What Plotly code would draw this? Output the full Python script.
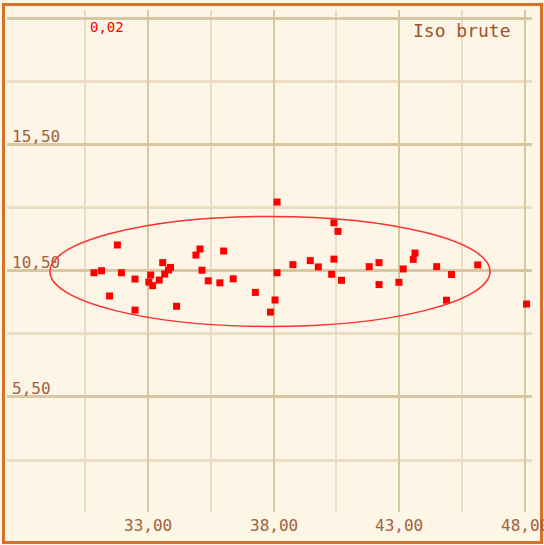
import plotly.graph_objects as go

# Data
x_vals = [30.87, 31.17, 31.80, 31.96, 31.49, 32.50, 32.50, 33.12, 33.05, 33.20,
          33.46, 33.60, 33.68, 33.83, 33.91, 34.15, 34.92, 35.08, 35.16, 35.41,
          35.87, 36.02, 36.40, 37.28, 37.88, 38.06, 38.14, 38.14, 38.77, 39.46,
          39.78, 40.31, 40.40, 40.40, 40.56, 40.70, 41.80, 42.19, 42.19, 42.98,
          43.15, 43.55, 43.62, 44.48, 44.87, 45.07, 46.11, 48.05, 48.30]
y_vals = [10.42, 10.50, 11.52, 10.42, 9.50, 10.17, 8.94, 10.33, 10.05, 9.91,
          10.13, 10.82, 10.37, 10.53, 10.63, 9.09, 11.12, 11.36, 10.52, 10.10,
          10.02, 11.28, 10.18, 9.64, 8.86, 9.34, 10.42, 13.22, 10.74, 10.90,
          10.65, 10.36, 10.96, 12.40, 12.06, 10.12, 10.66, 10.82, 9.95, 10.04,
          10.57, 10.95, 11.20, 10.66, 9.33, 10.35, 10.73, 9.18, 11.05]

x_ticks = [33.0, 38.0, 43.0, 48.0]
x_tick_labels = ["33,00", "38,00", "43,00", "48,00"]

ellipse_x = [29.12, 46.60]
ellipse_y = [8.29, 12.65]

x_range = [27.416, 48.266]
y_range = [0.94, 20.83]

title_text = "Iso brute"
corner_text = "0,02"

BG = "#FDF5E6"
BROWN = "#A0603C"
GRID_MAJOR = "#D9C6A3"
GRID_MINOR = "#EBDDC3"
FONT = "DejaVu Sans Mono"

fig = go.Figure()
fig.add_trace(go.Scatter(
    x=x_vals, y=y_vals, mode="markers",
    marker=dict(symbol="square", size=7, color="#FF0000", line=dict(width=0)),
    cliponaxis=False, showlegend=False, hoverinfo="x+y"))

fig.add_shape(type="circle", xref="x", yref="y",
              x0=ellipse_x[0], x1=ellipse_x[1], y0=ellipse_y[0], y1=ellipse_y[1],
              line=dict(color="#FF3030", width=1.5), layer="above")

W, H = 544, 545
ml, mr, mt, mb = 7, 12, 10, 33
pw, ph = W - ml - mr, H - mt - mb

def px_to_paper_x(px):
    return (px - ml) / pw

def px_to_paper_y(py):
    return (H - mb - py) / ph

# x tick labels placed on the x axis scale
for xv, lab in zip(x_ticks, x_tick_labels):
    fig.add_annotation(text=lab, xref="x", yref="paper", x=xv,
                       y=px_to_paper_y(525), showarrow=False,
                       font=dict(family=FONT, size=16, color=BROWN),
                       xanchor="center", yanchor="middle")

# outer orange frame
fig.add_shape(type="rect", xref="paper", yref="paper",
              x0=px_to_paper_x(3.5), x1=px_to_paper_x(541.5),
              y0=px_to_paper_y(542.5), y1=px_to_paper_y(4.5),
              line=dict(color="#D6702A", width=3), layer="above")

fig.add_annotation(text=title_text, xref="paper", yref="paper",
                   x=px_to_paper_x(462), y=px_to_paper_y(31), showarrow=False,
                   font=dict(family=FONT, size=18, color="#A0522D"),
                   xanchor="center", yanchor="middle")
fig.add_annotation(text=corner_text, xref="paper", yref="paper",
                   x=px_to_paper_x(107), y=px_to_paper_y(27), showarrow=False,
                   font=dict(family=FONT, size=14, color="#FF0000"),
                   xanchor="center", yanchor="middle")

fig.update_layout(
    width=W, height=H, autosize=False,
    margin=dict(l=ml, r=mr, t=mt, b=mb, pad=0, autoexpand=False),
    paper_bgcolor=BG, plot_bgcolor=BG,
    separators=",.",
    font=dict(family=FONT, size=16, color=BROWN),
    xaxis=dict(range=x_range, tick0=33, dtick=5, showticklabels=False,
               showgrid=True, gridcolor=GRID_MAJOR, gridwidth=1.5,
               zeroline=False, showline=False, ticks="",
               minor=dict(tick0=28, dtick=2.5, showgrid=True,
                          gridcolor=GRID_MINOR, gridwidth=1.5)),
    yaxis=dict(range=y_range, tick0=0.5, dtick=5, tickformat=".2f",
               showgrid=True, gridcolor=GRID_MAJOR, gridwidth=2.5,
               zeroline=False, showline=False, ticks="",
               ticklabelposition="inside top", ticklabelstandoff=2,
               ticklabelshift=3,
               tickfont=dict(family=FONT, size=16, color=BROWN),
               minor=dict(tick0=0.5, dtick=2.5, showgrid=True,
                          gridcolor=GRID_MINOR, gridwidth=2.5)),
)

fig.write_html("out.html",
               config={"displayModeBar": False},
               post_script="document.body.style.margin='0px';")
